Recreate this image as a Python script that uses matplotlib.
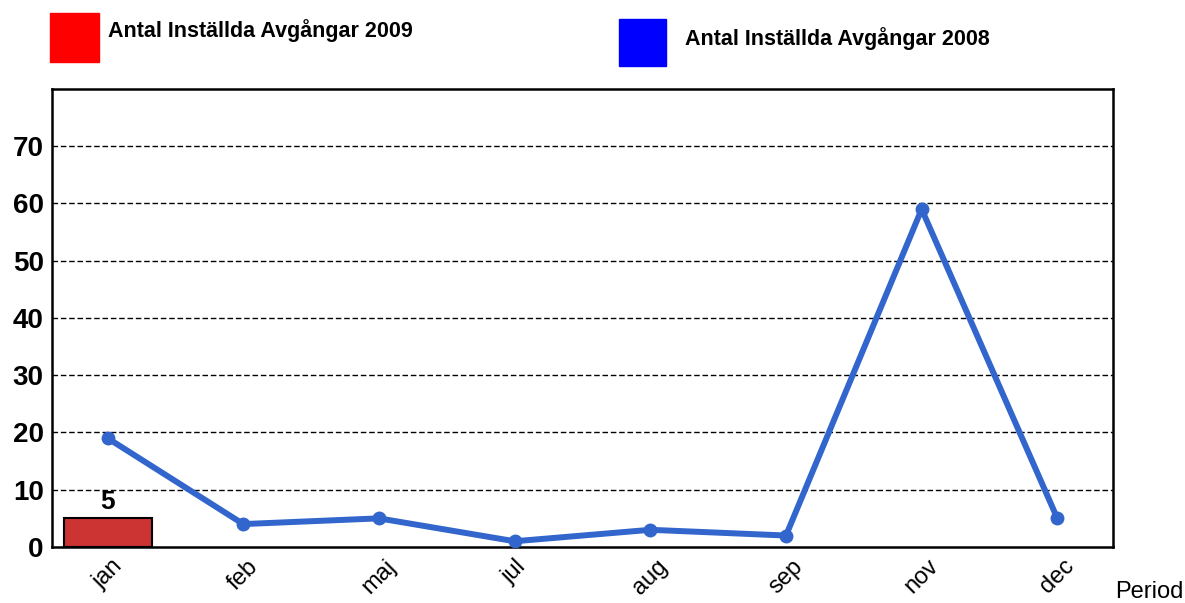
import matplotlib.pyplot as plt
from matplotlib.patches import Rectangle

plt.rcParams['font.family'] = ['Liberation Sans', 'DejaVu Sans']

months = ['jan', 'feb', 'maj', 'jul', 'aug', 'sep', 'nov', 'dec']
values_2008 = [19, 4, 5, 1, 3, 2, 59, 5]
bar_months = ['jan']
values_2009 = [5]
yticks = [0, 10, 20, 30, 40, 50, 60, 70]

fig = plt.figure(figsize=(11.85, 6.03), dpi=100)
ax = fig.add_axes([0.0439, 0.0929, 0.8953, 0.7595])

x = list(range(len(months)))
bx = [months.index(m) for m in bar_months]

# staplar 2009
bars = ax.bar(bx, values_2009, width=0.65, color='#cc3333', edgecolor='black', linewidth=1.5, zorder=3)
for b, v in zip(bars, values_2009):
    ax.text(b.get_x() + b.get_width() / 2, v + 0.8, str(v), ha='center', va='bottom',
            fontsize=19, fontweight='bold')

# linje 2008
ax.plot(x, values_2008, color='#3366cc', linewidth=4.3, marker='o', markersize=9, zorder=4)

ax.set_xlim(-0.41, 7.41)
ax.set_ylim(0, 80)
ax.set_yticks(yticks)
ax.set_yticklabels([str(t) for t in yticks], fontsize=20, fontweight='bold')
ax.set_xticks(x)
ax.set_xticklabels(months, rotation=45, fontsize=17, ha='center', va='top')
ax.tick_params(axis='both', length=0, pad=6)
for t in yticks[1:]:
    ax.axhline(t, color='black', linestyle=(0, (4, 2)), linewidth=1, zorder=1)
for s in ax.spines.values():
    s.set_linewidth(1.8)

fig.text(1115 / 1185, 1 - 592 / 603, 'Period', fontsize=17, ha='left', va='center')

# förklaring
fig.patches.append(Rectangle((50 / 1185, 1 - 62 / 603), 49 / 1185, 49 / 603,
                             transform=fig.transFigure, color='#ff0000'))
fig.text(108 / 1185, 1 - 31 / 603, 'Antal Inställda Avgångar 2009', fontsize=15.5,
         fontweight='bold', va='center')
fig.patches.append(Rectangle((619 / 1185, 1 - 66 / 603), 47 / 1185, 47 / 603,
                             transform=fig.transFigure, color='#0000ff'))
fig.text(685 / 1185, 1 - 39 / 603, 'Antal Inställda Avgångar 2008', fontsize=15.5,
         fontweight='bold', va='center')

fig.savefig('out.png', dpi=100)
